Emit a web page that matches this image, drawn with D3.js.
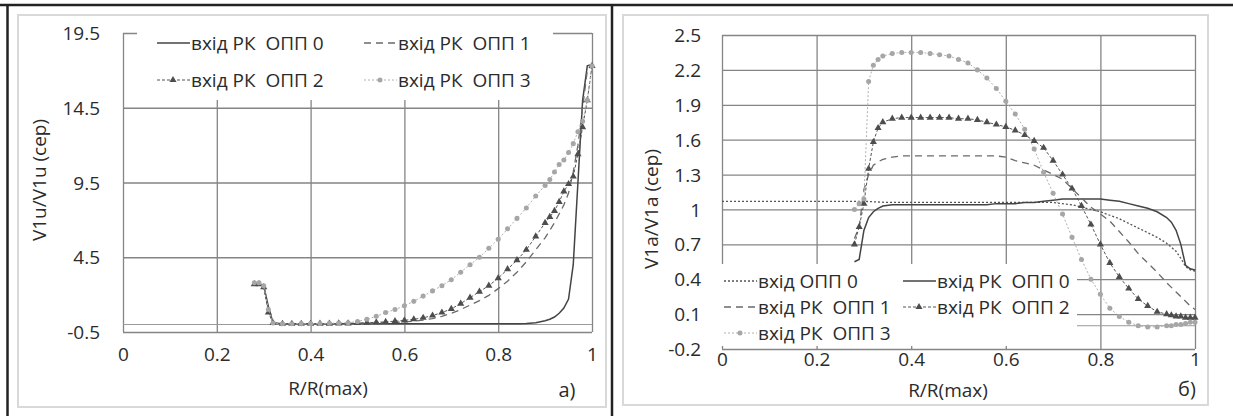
<!DOCTYPE html>
<html>
<head>
<meta charset="utf-8">
<script src="https://cdn.jsdelivr.net/npm/d3@7"></script>
<style>
body { margin: 0; background: #fff; }
text { font-family: "Open Sans", sans-serif; fill: #2b2b2b; }
</style>
</head>
<body>
<script>
// ---- panel a) : V1u/V1u (сер) ----
var rLeft = [0.28,0.29,0.30,0.31,0.32,
  0.34,0.36,0.38,0.40,0.42,0.44,0.46,0.48,0.50,0.52,
  0.54,0.56,0.58,0.60,0.62,0.64,0.66,0.68,0.70,0.72,
  0.74,0.76,0.78,0.80,0.82,0.84,0.86,0.88,0.90,
  0.91,0.92,0.93,0.94,0.95,0.96,0.97,0.98,0.99,1.00];
var leftOpp0 = [2.8,2.7,2.6,1.2,0.1,
  0.05,0.05,0.05,0.05,0.05,0.05,0.05,0.05,0.05,0.05,
  0.05,0.05,0.05,0.05,0.05,0.05,0.05,0.05,0.05,0.05,
  0.05,0.05,0.05,0.05,0.05,0.05,0.07,0.12,0.25,
  0.35,0.5,0.75,1.1,1.7,4.0,9.5,15.0,17.3,17.4];
var leftOpp1 = [2.7,2.7,2.6,1.0,0.1,
  0.05,0.05,0.05,0.05,0.05,0.06,0.06,0.07,0.08,0.09,
  0.1,0.12,0.15,0.18,0.22,0.3,0.4,0.55,0.75,1.0,
  1.3,1.6,1.95,2.4,2.9,3.5,4.2,5.0,5.8,
  6.3,6.8,7.4,8.0,8.8,10.2,12.0,14.5,17.0,17.3];
var leftOpp2 = [2.7,2.7,2.5,0.8,0.1,
  0.05,0.05,0.05,0.05,0.06,0.06,0.07,0.08,0.1,0.12,
  0.15,0.18,0.22,0.28,0.35,0.45,0.6,0.8,1.05,1.4,
  1.8,2.2,2.6,3.1,3.7,4.3,5.0,5.9,6.8,
  7.2,7.6,8.2,8.9,9.4,9.9,11.4,13.2,15.0,17.3];
var leftOpp3 = [2.8,2.8,2.6,1.0,0.1,
  0.05,0.05,0.06,0.06,0.07,0.08,0.1,0.12,0.2,0.35,
  0.55,0.8,1.0,1.25,1.55,1.9,2.25,2.6,3.0,3.5,
  4.0,4.5,5.1,5.7,6.4,7.1,7.8,8.6,9.3,
  9.7,10.2,10.7,11.0,11.5,12.1,12.9,13.6,15.0,17.3];
var leftYTicks = [-0.5, 4.5, 9.5, 14.5, 19.5];

// ---- panel б) : V1a/V1a (сер) ----
var rRight = [0.28,0.29,0.30,0.31,0.32,0.33,0.34,
  0.36,0.38,0.40,0.42,0.44,0.46,0.48,0.50,0.52,0.54,
  0.56,0.58,0.60,0.62,0.64,0.66,0.68,0.70,0.72,0.74,
  0.76,0.78,0.80,0.82,0.84,0.86,0.88,0.90,0.92,0.94,
  0.95,0.96,0.97,0.98,0.99,1.00];
var rightInletX = [0,0.1,0.2,0.28,0.3,0.35,0.4,0.45,0.5,0.55,0.6,0.65,0.7,0.72,0.74,
  0.76,0.78,0.8,0.82,0.84,0.86,0.88,0.9,0.92,0.94,0.96,0.97,0.98,0.99,1.0];
var rightInlet = [1.07,1.07,1.07,1.07,1.07,1.06,1.06,1.06,1.06,1.06,1.06,1.06,1.06,1.05,1.04,
  1.02,1.0,0.98,0.95,0.92,0.88,0.84,0.8,0.76,0.71,0.64,0.58,0.51,0.48,0.47];
var rightOpp0 = [0.55,0.57,0.82,0.93,0.98,1.01,1.03,
  1.04,1.04,1.04,1.04,1.04,1.04,1.04,1.04,1.04,1.04,
  1.04,1.05,1.05,1.05,1.06,1.06,1.07,1.08,1.09,1.09,
  1.09,1.09,1.09,1.08,1.07,1.05,1.03,1.01,0.98,0.93,
  0.89,0.82,0.70,0.52,0.49,0.48];
var rightOpp1 = [0.75,0.85,1.17,1.3,1.38,1.41,1.43,
  1.45,1.46,1.46,1.46,1.46,1.46,1.46,1.46,1.46,1.46,
  1.46,1.46,1.45,1.42,1.40,1.38,1.34,1.30,1.26,1.18,
  1.10,1.02,0.96,0.90,0.81,0.72,0.62,0.54,0.46,0.37,
  0.33,0.29,0.25,0.21,0.17,0.14];
var rightOpp2 = [0.7,0.85,1.05,1.35,1.58,1.7,1.75,
  1.78,1.79,1.79,1.79,1.79,1.79,1.79,1.78,1.78,1.77,
  1.75,1.73,1.71,1.68,1.64,1.59,1.53,1.42,1.30,1.18,
  1.03,0.87,0.70,0.54,0.42,0.32,0.23,0.17,0.12,0.10,
  0.09,0.08,0.08,0.07,0.07,0.07];
var rightOpp3 = [1.0,1.05,1.09,2.1,2.24,2.29,2.32,
  2.34,2.35,2.35,2.35,2.34,2.33,2.32,2.29,2.26,2.20,
  2.13,2.04,1.93,1.82,1.69,1.52,1.32,1.14,0.96,0.76,
  0.57,0.40,0.27,0.15,0.08,0.03,0.0,-0.01,-0.01,0.0,
  0.0,0.01,0.01,0.02,0.03,0.03];
var rightYTicks = [-0.2,0.1,0.4,0.7,1,1.3,1.6,1.9,2.2,2.5];

var xTicks = [0,0.2,0.4,0.6,0.8,1];

var names = ["вхід ОПП 0", "вхід РК  ОПП 0", "вхід РК  ОПП 1", "вхід РК  ОПП 2", "вхід РК  ОПП 3"];

// line styles for each kind of series
var styles = {
  inlet: {stroke: "#555", width: 1.3, dash: "2,2"},
  opp0:  {stroke: "#444", width: 1.5, dash: null},
  opp1:  {stroke: "#6a6a6a", width: 1.3, dash: "7,5"},
  opp2:  {stroke: "#555", width: 1, dash: "3,2", marker: d3.symbolTriangle, msize: 22, mfill: "#4d4d4d"},
  opp3:  {stroke: "#b0b0b0", width: 1, dash: "2,2", marker: d3.symbolCircle, msize: 20, mfill: "#a6a6a6"}
};

var svg = d3.select("body").append("svg")
    .attr("width", 1233)
    .attr("height", 416);

// table frame and chart-area borders
svg.append("rect").attr("x", 18).attr("y", 15).attr("width", 588).attr("height", 392)
    .style("fill", "none").style("stroke", "#d9d9d9").style("stroke-width", 2);
svg.append("rect").attr("x", 623).attr("y", 15).attr("width", 585).attr("height", 390)
    .style("fill", "none").style("stroke", "#d9d9d9").style("stroke-width", 2);
svg.append("line").attr("x1", 0).attr("x2", 1233).attr("y1", 5).attr("y2", 5)
    .style("stroke", "#222").style("stroke-width", 2.5);
svg.append("line").attr("x1", 7.5).attr("x2", 7.5).attr("y1", 4).attr("y2", 416)
    .style("stroke", "#222").style("stroke-width", 2.5);
svg.append("line").attr("x1", 612).attr("x2", 612).attr("y1", 4).attr("y2", 416)
    .style("stroke", "#222").style("stroke-width", 2.5);

function plota(c) {
  var x = d3.scaleLinear().domain([0, 1]).range([c.left, c.right]);
  var y = d3.scaleLinear().domain(c.ydom).range([c.bottom, c.top]);
  var g = svg.append("g");

  var gy = g.append("g")
      .attr("transform", "translate(" + c.left + ",0)")
      .call(d3.axisLeft(y).tickValues(c.yTicks).tickSize(-(c.right - c.left))
            .tickPadding(c.ypad).tickFormat(String));
  var gx = g.append("g")
      .attr("transform", "translate(0," + c.bottom + ")")
      .call(d3.axisBottom(x).tickValues(xTicks).tickSize(-(c.bottom - c.top))
            .tickPadding(c.xpad).tickFormat(String));
  [gy, gx].forEach(function(a) {
    a.select(".domain").remove();
    a.selectAll("line").style("stroke", "#858585").style("stroke-width", 1.3);
    a.selectAll("text").style("font-size", "19px").style("fill", "#2b2b2b");
  });
  gy.selectAll(".tick text").attr("dy", "0.35em");

  // horizontal axis crossing at 0
  g.append("line").attr("x1", c.left).attr("x2", c.right)
      .attr("y1", y(0)).attr("y2", y(0))
      .style("stroke", "#9a9a9a").style("stroke-width", 1);

  var line = d3.line()
      .x(function(d) { return x(d[0]); })
      .y(function(d) { return y(d[1]); });

  c.series.forEach(function(s) {
    var st = styles[s.kind];
    var pts = d3.zip(s.x, s.y);
    g.append("path")
        .datum(pts)
        .attr("d", line)
        .style("fill", "none")
        .style("stroke", st.stroke)
        .style("stroke-width", st.width)
        .style("stroke-dasharray", st.dash);
    if (st.marker) {
      g.selectAll(null)
          .data(pts)
        .enter().append("path")
          .attr("transform", function(d) { return "translate(" + x(d[0]) + "," + y(d[1]) + ")"; })
          .attr("d", d3.symbol().type(st.marker).size(st.msize))
          .style("fill", st.mfill);
    }
  });

  // legend
  var lg = c.legend;
  g.append("rect").attr("x", lg.box[0]).attr("y", lg.box[1])
      .attr("width", lg.box[2]).attr("height", lg.box[3])
      .style("fill", "#fff");
  lg.items.forEach(function(it) {
    var st = styles[it.kind];
    g.append("line").attr("x1", it.x).attr("x2", it.x + 33)
        .attr("y1", it.y).attr("y2", it.y)
        .style("stroke", st.stroke).style("stroke-width", st.width)
        .style("stroke-dasharray", st.dash);
    if (st.marker) {
      g.append("path")
          .attr("transform", "translate(" + (it.x + 16) + "," + it.y + ")")
          .attr("d", d3.symbol().type(st.marker).size(st.msize))
          .style("fill", st.mfill);
    }
    g.append("text").attr("x", it.x + 34).attr("y", it.y)
        .attr("dy", "0.35em")
        .style("font-size", "19px")
        .style("white-space", "pre")
        .text(it.name);
  });

  // titles
  g.append("text")
      .attr("transform", "translate(" + c.ytitle[0] + "," + c.ytitle[1] + ") rotate(-90)")
      .attr("text-anchor", "middle").attr("dy", "0.35em")
      .style("font-size", "19px")
      .text(c.ylabel);
  g.append("text")
      .attr("x", c.xtitle[0]).attr("y", c.xtitle[1])
      .attr("text-anchor", "middle").attr("dy", "0.35em")
      .style("font-size", "19px")
      .text("R/R(max)");
  g.append("text")
      .attr("x", c.tag[0]).attr("y", c.tag[1])
      .attr("text-anchor", "middle").attr("dy", "0.35em")
      .style("font-size", "20px")
      .text(c.tagText);
}

plota({
  left: 123, right: 592, top: 33, bottom: 332,
  ydom: [-0.5, 19.5], yTicks: leftYTicks, ypad: 23, xpad: 16,
  series: [
    {kind: "opp0", x: rLeft, y: leftOpp0},
    {kind: "opp1", x: rLeft, y: leftOpp1},
    {kind: "opp2", x: rLeft, y: leftOpp2},
    {kind: "opp3", x: rLeft, y: leftOpp3}
  ],
  legend: {
    box: [137, 18, 416, 82],
    items: [
      {kind: "opp0", name: names[1], x: 157, y: 43},
      {kind: "opp1", name: names[2], x: 364, y: 43},
      {kind: "opp2", name: names[3], x: 157, y: 80},
      {kind: "opp3", name: names[4], x: 364, y: 80}
    ]
  },
  ylabel: "V1u/V1u (сер)", ytitle: [39, 180],
  xtitle: [328, 388],
  tag: [567, 390], tagText: "а)"
});

plota({
  left: 722, right: 1195, top: 35, bottom: 349,
  ydom: [-0.2, 2.5], yTicks: rightYTicks, ypad: 21, xpad: 3,
  series: [
    {kind: "inlet", x: rightInletX, y: rightInlet},
    {kind: "opp0", x: rRight, y: rightOpp0},
    {kind: "opp1", x: rRight, y: rightOpp1},
    {kind: "opp2", x: rRight, y: rightOpp2},
    {kind: "opp3", x: rRight, y: rightOpp3}
  ],
  legend: {
    box: [717, 264, 360, 82],
    items: [
      {kind: "inlet", name: names[0], x: 724, y: 281},
      {kind: "opp0", name: names[1], x: 903, y: 281},
      {kind: "opp1", name: names[2], x: 724, y: 307},
      {kind: "opp2", name: names[3], x: 903, y: 307},
      {kind: "opp3", name: names[4], x: 724, y: 333}
    ]
  },
  ylabel: "V1a/V1a (сер)", ytitle: [651, 209],
  xtitle: [948, 390],
  tag: [1187, 389], tagText: "б)"
});
</script>
</body>
</html>
